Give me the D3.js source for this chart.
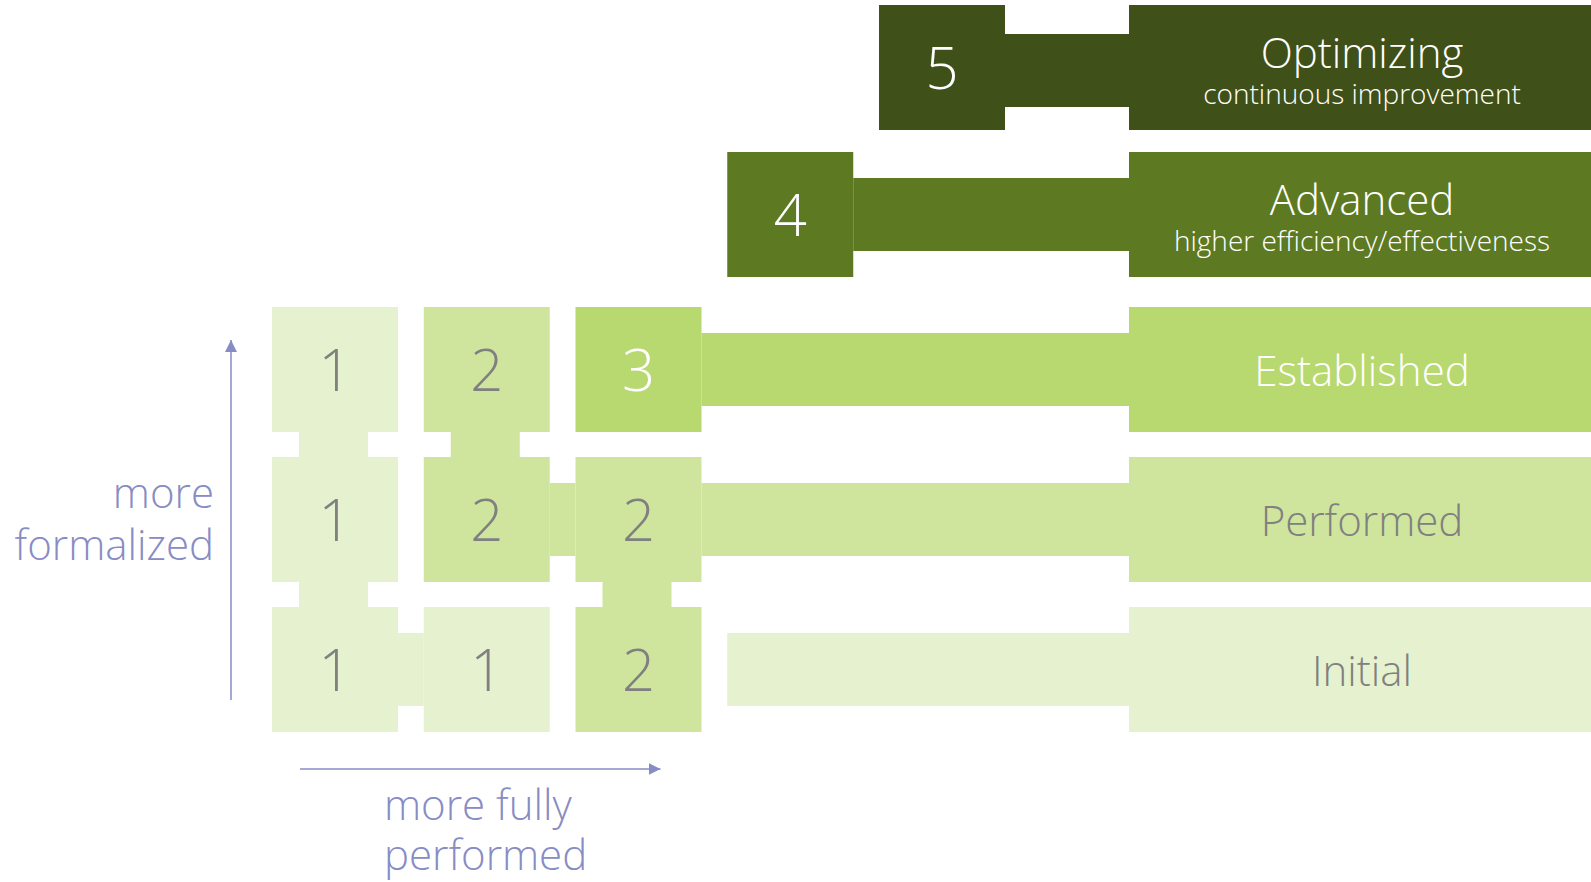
<!DOCTYPE html>
<html>
<head>
<meta charset="utf-8">
<script src="https://cdn.jsdelivr.net/npm/d3@7"></script>
<style>
  html, body { margin: 0; padding: 0; background: #ffffff; }
  svg { display: block; }
  text { font-family: "Open Sans", "Noto Sans", sans-serif; font-weight: 300; }
</style>
</head>
<body>
<svg id="chart" width="1591" height="882"></svg>
<script>
// ---------------- data ----------------
const levels = [1, 2, 3, 4, 5];
const levelNames = ["Initial", "Performed", "Established", "Advanced", "Optimizing"];
const levelSubtitles = ["", "", "", "higher efficiency/effectiveness", "continuous improvement"];
const levelColors = ["#e6f2cf", "#cfe59e", "#b8d870", "#5d7a22", "#3f5118"];
const levelTextColors = ["#808080", "#808080", "#ffffff", "#ffffff", "#ffffff"];

// grid: rows = formalization (1 bottom .. 3 top), columns = performance (1 left .. 3 right)
const gridRows = [1, 2, 3];
const gridCols = [1, 2, 3];
const gridValues = [
  [1, 1, 2],   // row 1 (bottom)
  [1, 2, 2],   // row 2
  [1, 2, 3]    // row 3 (top)
];
// stand-alone level boxes beyond the grid
const upperLevels = [4, 5];

const yAxisLabel = ["more", "formalized"];
const xAxisLabel = ["more fully", "performed"];

// ---------------- scales ----------------
const svg = d3.select("#chart");
const colX = d3.scaleLinear().domain([1, 5]).range([272, 879]);        // left edge of column
const rowY = d3.scaleLinear().domain([1, 3, 4, 5]).range([607, 307, 152, 5]); // top edge of level row
const cellW = 126, cellH = 125;
const connThick = 73, connWide = 69;
const blockX = 1129, blockX2 = 1591;
const axisColor = "#878cc4";

const g = svg.append("g");

// ---------------- grid connectors ----------------
const conns = [];
gridRows.forEach((r, ri) => {
  gridCols.forEach((c, ci) => {
    const v = gridValues[ri][ci];
    if (ci < gridCols.length - 1 && gridValues[ri][ci + 1] === v) {
      conns.push({x: colX(c) + cellW, y: rowY(r) + cellH / 2 - connThick / 2,
                  w: colX(c + 1) - colX(c) - cellW, h: connThick, v});
    }
    if (ri < gridRows.length - 1 && gridValues[ri + 1][ci] === v) {
      conns.push({x: colX(c) + cellW / 2 - connWide / 2 - 1.5, y: rowY(r + 1) + cellH,
                  w: connWide, h: rowY(r) - rowY(r + 1) - cellH, v});
    }
  });
});

// connectors from levels to label blocks
levels.forEach(L => {
  let startX;
  if (L <= 3) {
    const ri = L - 1;
    const lastV = gridValues[ri][gridCols.length - 1];
    startX = lastV === L ? colX(gridCols.length) + cellW : colX(gridCols.length + 1);
  } else {
    startX = colX(L) + cellW;
  }
  const off = L === 5 ? 3 : 0;
  conns.push({x: startX, y: rowY(L) + cellH / 2 - connThick / 2 + off, w: blockX - startX + 1, h: connThick, v: L});
});

g.selectAll("rect.conn").data(conns).join("rect")
  .attr("class", "conn")
  .attr("x", d => d.x).attr("y", d => d.y)
  .attr("width", d => d.w).attr("height", d => d.h)
  .attr("fill", d => levelColors[d.v - 1]);

// ---------------- grid cells ----------------
const cells = [];
gridRows.forEach((r, ri) => gridCols.forEach((c, ci) => cells.push({r, c, v: gridValues[ri][ci]})));
upperLevels.forEach(L => cells.push({r: L, c: L, v: L}));

g.selectAll("rect.cell").data(cells).join("rect")
  .attr("class", "cell")
  .attr("x", d => colX(d.c)).attr("y", d => rowY(d.r))
  .attr("width", cellW).attr("height", cellH)
  .attr("fill", d => levelColors[d.v - 1]);

g.selectAll("text.cellnum").data(cells).join("text")
  .attr("class", "cellnum")
  .attr("x", d => colX(d.c) + cellW / 2)
  .attr("y", d => rowY(d.r) + 84)
  .attr("text-anchor", "middle")
  .attr("font-size", 58)
  .attr("fill", d => (d.r === d.v && d.v >= 3) ? "#ffffff" : "#808080")
  .text(d => d.v);

// ---------------- label blocks ----------------
g.selectAll("rect.block").data(levels).join("rect")
  .attr("class", "block")
  .attr("x", blockX).attr("y", L => rowY(L))
  .attr("width", blockX2 - blockX).attr("height", cellH)
  .attr("fill", L => levelColors[L - 1]);

const cx = (blockX + blockX2) / 2 + 2;
g.selectAll("text.title").data(levels).join("text")
  .attr("class", "title")
  .attr("x", cx)
  .attr("y", L => rowY(L) + (levelSubtitles[L - 1] ? 63 : 79))
  .attr("text-anchor", "middle")
  .attr("font-size", 42)
  .attr("fill", L => levelTextColors[L - 1])
  .text(L => levelNames[L - 1]);

g.selectAll("text.sub").data(levels.filter(L => levelSubtitles[L - 1])).join("text")
  .attr("class", "sub")
  .attr("x", cx)
  .attr("y", L => rowY(L) + 99)
  .attr("text-anchor", "middle")
  .attr("font-size", 28)
  .attr("fill", L => levelTextColors[L - 1])
  .text(L => levelSubtitles[L - 1]);

// ---------------- axes arrows ----------------
svg.append("defs").append("marker")
  .attr("id", "arrow").attr("viewBox", "0 0 12 12")
  .attr("refX", 12).attr("refY", 6)
  .attr("markerWidth", 12).attr("markerHeight", 12)
  .attr("markerUnits", "userSpaceOnUse")
  .attr("orient", "auto")
  .append("path").attr("d", "M0,0 L12,6 L0,12 Z").attr("fill", axisColor);

const vx = colX(1) - 41;
svg.append("line")
  .attr("x1", vx).attr("y1", rowY(1) + cellH - 32)
  .attr("x2", vx).attr("y2", rowY(3) + 33)
  .attr("stroke", axisColor).attr("stroke-width", 1.5)
  .attr("marker-end", "url(#arrow)");

const hy = rowY(1) + cellH + 37;
svg.append("line")
  .attr("x1", colX(1) + 28).attr("y1", hy)
  .attr("x2", colX(3) + cellW - 41).attr("y2", hy)
  .attr("stroke", axisColor).attr("stroke-width", 1.5)
  .attr("marker-end", "url(#arrow)");

svg.selectAll("text.ylab").data(yAxisLabel).join("text")
  .attr("class", "ylab")
  .attr("x", vx - 17)
  .attr("y", (d, i) => 508 + i * 52)
  .attr("text-anchor", "end")
  .attr("font-size", 42)
  .attr("fill", axisColor)
  .text(d => d);

svg.selectAll("text.xlab").data(xAxisLabel).join("text")
  .attr("class", "xlab")
  .attr("x", 384)
  .attr("y", (d, i) => hy + 51 + i * 50)
  .attr("text-anchor", "start")
  .attr("font-size", 42)
  .attr("fill", axisColor)
  .text(d => d);
</script>
</body>
</html>
